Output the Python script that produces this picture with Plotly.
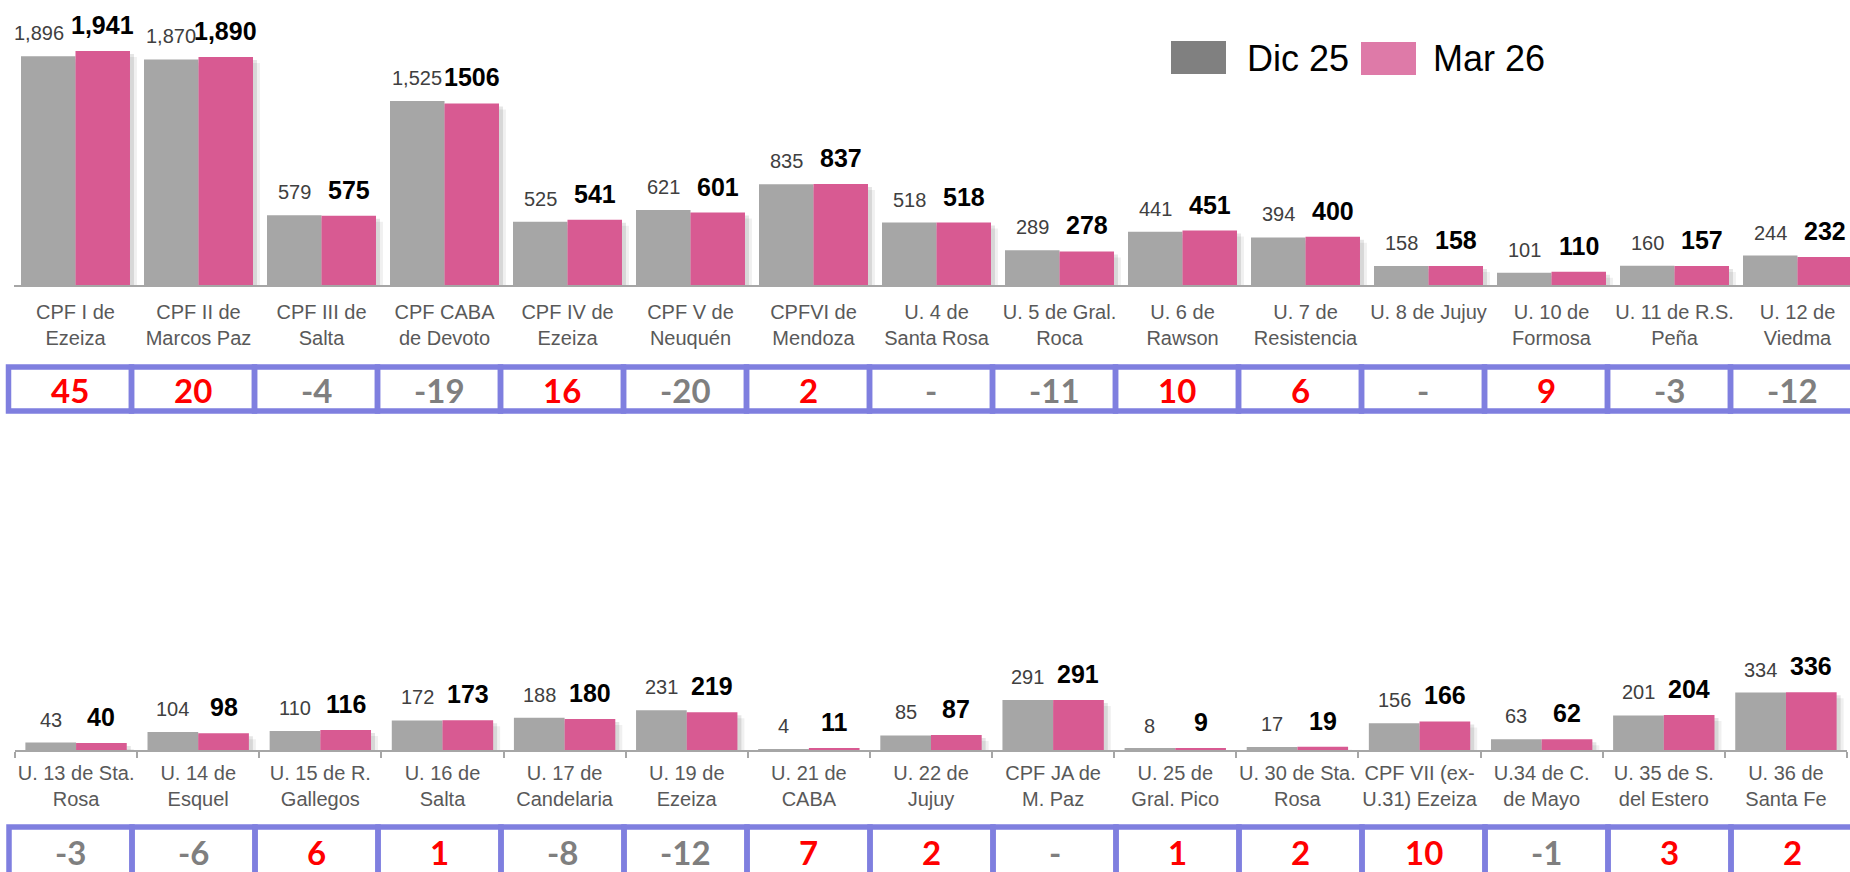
import plotly.graph_objects as go

W, H = 1850, 872

# ---- data: first row of units ----
top_cats = ["CPF I de<br>Ezeiza", "CPF II de<br>Marcos Paz", "CPF III de<br>Salta",
            "CPF CABA<br>de Devoto", "CPF IV de<br>Ezeiza", "CPF V de<br>Neuquén",
            "CPFVI de<br>Mendoza", "U. 4 de<br>Santa Rosa", "U. 5 de Gral.<br>Roca",
            "U. 6 de<br>Rawson", "U. 7 de<br>Resistencia", "U. 8 de Jujuy",
            "U. 10 de<br>Formosa", "U. 11 de R.S.<br>Peña", "U. 12 de<br>Viedma"]
top_dic = [1896, 1870, 579, 1525, 525, 621, 835, 518, 289, 441, 394, 158, 101, 160, 244]
top_mar = [1941, 1890, 575, 1506, 541, 601, 837, 518, 278, 451, 400, 158, 110, 157, 232]
top_dic_text = ["1,896", "1,870", "579", "1,525", "525", "621", "835", "518", "289",
                "441", "394", "158", "101", "160", "244"]
top_mar_text = ["1,941", "1,890", "575", "1506", "541", "601", "837", "518", "278",
                "451", "400", "158", "110", "157", "232"]
top_diff = [45, 20, -4, -19, 16, -20, 2, 0, -11, 10, 6, 0, 9, -3, -12]

# ---- data: second row of units ----
bot_cats = ["U. 13 de Sta.<br>Rosa", "U. 14 de<br>Esquel", "U. 15 de R.<br>Gallegos",
            "U. 16 de<br>Salta", "U. 17 de<br>Candelaria", "U. 19 de<br>Ezeiza",
            "U. 21 de<br>CABA", "U. 22 de<br>Jujuy", "CPF JA de<br>M. Paz",
            "U. 25 de<br>Gral. Pico", "U. 30 de Sta.<br>Rosa", "CPF VII (ex-<br>U.31) Ezeiza",
            "U.34 de C.<br>de Mayo", "U. 35 de S.<br>del Estero", "U. 36 de<br>Santa Fe"]
bot_dic = [43, 104, 110, 172, 188, 231, 4, 85, 291, 8, 17, 156, 63, 201, 334]
bot_mar = [40, 98, 116, 173, 180, 219, 11, 87, 291, 9, 19, 166, 62, 204, 336]
bot_dic_text = [str(v) for v in bot_dic]
bot_mar_text = [str(v) for v in bot_mar]
bot_diff = [-3, -6, 6, 1, -8, -12, 7, 2, 0, 1, 2, 10, -1, 3, 2]

GRAY = "#A6A6A6"
PINK = "#D85A92"
FONT = "Liberation Sans, Arial, sans-serif"


def px_x(x):
    return x / W


def px_y(y):
    return 1 - y / H


fig = go.Figure()

# panel settings: axis suffix, categories, values, geometry
panels = [
    dict(ax="", cats=top_cats, dic=top_dic, mar=top_mar, dt=top_dic_text, mt=top_mar_text,
         diff=top_diff, base=285, top=30, scale=0.1206, bw=0.443, pitch=123.0,
         xdom=[14 / W, 1], xrange=[-0.5, 14.5 - 9 / 123],
         box_left=8.5, box_y=(367, 411), box_text_y=390),
    dict(ax="2", cats=bot_cats, dic=bot_dic, mar=bot_mar, dt=bot_dic_text, mt=bot_mar_text,
         diff=bot_diff, base=750, top=600, scale=0.172, bw=0.415, pitch=122.1,
         xdom=[15 / W, 1847 / W], xrange=[-0.5, 14.5],
         box_left=9, box_y=(827, 885), box_text_y=852),
]

annotations = []
shapes = []

for p in panels:
    xa, ya = "x" + p["ax"], "y" + p["ax"]
    bw = p["bw"]
    # soft drop shadows behind the bars
    for dx, dy, alpha in [(7, 6, 0.06), (4, 3, 0.10)]:
        for vals, off in [(p["dic"], -bw), (p["mar"], 0)]:
            fig.add_trace(go.Bar(
                x=p["cats"], y=vals, base=-dy / p["scale"],
                offset=off + dx / p["pitch"], width=bw,
                marker=dict(color=f"rgba(0,0,0,{alpha})", line=dict(width=0)),
                xaxis=xa, yaxis=ya, showlegend=False, hoverinfo="skip",
                cliponaxis=False,
            ))
    fig.add_trace(go.Bar(
        x=p["cats"], y=p["dic"], name="Dic 25", offset=-bw, width=bw,
        marker=dict(color=GRAY, line=dict(width=0)), xaxis=xa, yaxis=ya, showlegend=False,
    ))
    fig.add_trace(go.Bar(
        x=p["cats"], y=p["mar"], name="Mar 26", offset=0, width=bw,
        marker=dict(color=PINK, line=dict(width=0)), xaxis=xa, yaxis=ya, showlegend=False,
    ))

    # value labels above the bars
    for i in range(len(p["cats"])):
        # the very first gray label sits a little to the left to clear its neighbour
        nudge = -9 if (p["ax"] == "" and i == 0) else 0
        annotations.append(dict(
            x=i - bw / 2, y=p["dic"][i], xref=xa, yref=ya, text=p["dt"][i],
            showarrow=False, yanchor="bottom", yshift=10, xshift=nudge,
            font=dict(family=FONT, size=20, color="#404040"),
        ))
        annotations.append(dict(
            x=i + bw / 2, y=p["mar"][i], xref=xa, yref=ya, text=p["mt"][i],
            showarrow=False, yanchor="bottom", yshift=10,
            font=dict(family=FONT, size=25, color="#000000", weight="bold"),
        ))

    # difference table under the categories
    y0, y1 = p["box_y"]
    for i, d in enumerate(p["diff"]):
        left = p["box_left"] + 123 * i
        shapes.append(dict(
            type="rect", xref="paper", yref="paper",
            x0=px_x(left), x1=px_x(left + 123), y0=px_y(y1), y1=px_y(y0),
            line=dict(color="#7F7FDF", width=5.5), fillcolor="rgba(0,0,0,0)",
        ))
        annotations.append(dict(
            x=px_x(left + 61.5), y=px_y(p["box_text_y"]), xref="paper", yref="paper",
            text=f"{d}" if d != 0 else "-", showarrow=False,
            xanchor="center", yanchor="middle",
            font=dict(family="Lato, Open Sans, sans-serif", size=33, weight="bold",
                      color="#FF0000" if d > 0 else "#7F7F7F"),
        ))

# legend drawn by hand (bigger swatches than the plotly legend allows)
shapes.append(dict(type="rect", xref="paper", yref="paper", x0=px_x(1171), x1=px_x(1226),
                   y0=px_y(74), y1=px_y(41), fillcolor="#808080", line=dict(width=0)))
shapes.append(dict(type="rect", xref="paper", yref="paper", x0=px_x(1361), x1=px_x(1416),
                   y0=px_y(75), y1=px_y(42), fillcolor="#DE7AA8", line=dict(width=0)))
for label, x in [("Dic 25", 1245), ("Mar 26", 1431)]:
    annotations.append(dict(
        x=px_x(x), y=px_y(59), xref="paper", yref="paper", text=label, showarrow=False,
        xanchor="left", yanchor="middle", font=dict(family=FONT, size=36, color="#000000"),
    ))

top, bot = panels
axis_common = dict(
    type="category", showgrid=False, zeroline=False, showline=True,
    linecolor="#A6A6A6", linewidth=2, tickfont=dict(family=FONT, size=20, color="#595959"),
    tickson="boundaries", ticklen=6, tickwidth=2, tickcolor="#A6A6A6", tickangle=0,
)

fig.update_layout(
    width=W, height=H,
    margin=dict(l=0, r=0, t=0, b=0),
    paper_bgcolor="white", plot_bgcolor="rgba(0,0,0,0)",
    barmode="overlay", showlegend=False,
    xaxis=dict(axis_common, domain=top["xdom"], range=top["xrange"], ticks="",
               anchor="y", ticklabelstandoff=8),
    yaxis=dict(domain=[px_y(top["base"]), px_y(top["top"])],
               range=[0, (top["base"] - top["top"]) / top["scale"]], visible=False),
    xaxis2=dict(axis_common, domain=bot["xdom"], range=bot["xrange"], ticks="outside",
                anchor="y2", ticklabelstandoff=4),
    yaxis2=dict(domain=[px_y(bot["base"]), px_y(bot["top"])],
                range=[0, (bot["base"] - bot["top"]) / bot["scale"]], visible=False),
    annotations=annotations,
    shapes=shapes,
)

fig.write_html("out.html", config={"displayModeBar": False},
               post_script="document.body.style.margin='0';document.body.style.overflow='hidden';")
